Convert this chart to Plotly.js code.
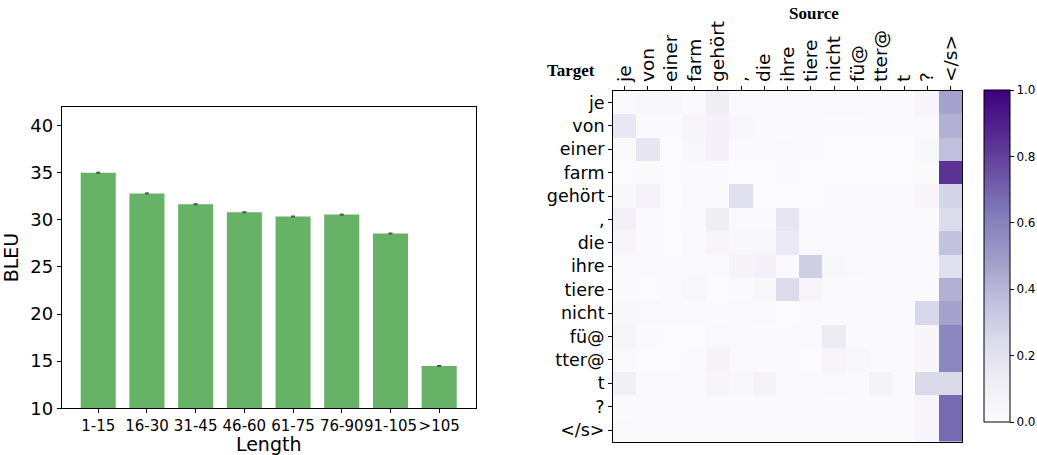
<!DOCTYPE html>
<html>
<head>
<meta charset="utf-8">
<script src="https://cdn.plot.ly/plotly-3.0.1.min.js"></script>
<style>html,body{margin:0;padding:0;background:#fff;}#chart{width:1037px;height:455px;}</style>
</head>
<body>
<div id="chart"></div>
<script>
// ---- Bar chart data ----
const lengthBins = ["1-15", "16-30", "31-45", "46-60", "61-75", "76-90", "91-105", ">105"];
const bleuScores = [35.0, 32.8, 31.65, 30.8, 30.35, 30.55, 28.55, 14.5];
const bleuErrors = [0.05, 0.05, 0.05, 0.05, 0.05, 0.05, 0.05, 0.05];

// ---- Attention heatmap data ----
const sourceTokens = ["je", "von", "einer", "farm", "gehört", ",", "die", "ihre", "tiere", "nicht", "fü@", "tter@", "t", "?", "</s>"];
const targetTokens = ["je", "von", "einer", "farm", "gehört", ",", "die", "ihre", "tiere", "nicht", "fü@", "tter@", "t", "?", "</s>"];
const attention = [
  [0.02, 0.04, 0.04, 0.02, 0.12, 0.02, 0.02, 0.02, 0.02, 0.03, 0.03, 0.02, 0.02, 0.05, 0.47],
  [0.16, 0.02, 0.02, 0.05, 0.08, 0.04, 0.02, 0.02, 0.02, 0.02, 0.02, 0.02, 0.02, 0.03, 0.42],
  [0.03, 0.17, 0.01, 0.04, 0.08, 0.02, 0.02, 0.03, 0.02, 0.01, 0.01, 0.01, 0.01, 0.04, 0.36],
  [0.01, 0.02, 0.01, 0.02, 0.02, 0.01, 0.01, 0.02, 0.01, 0.01, 0.01, 0.01, 0.01, 0.02, 0.84],
  [0.04, 0.07, 0.01, 0.03, 0.02, 0.22, 0.01, 0.01, 0.01, 0.02, 0.03, 0.03, 0.02, 0.05, 0.27],
  [0.09, 0.02, 0.01, 0.02, 0.12, 0.02, 0.02, 0.18, 0.02, 0.02, 0.02, 0.02, 0.02, 0.02, 0.24],
  [0.05, 0.02, 0.01, 0.03, 0.05, 0.04, 0.04, 0.15, 0.03, 0.03, 0.02, 0.02, 0.02, 0.03, 0.35],
  [0.02, 0.02, 0.02, 0.03, 0.02, 0.06, 0.08, 0.02, 0.3, 0.04, 0.03, 0.02, 0.02, 0.02, 0.21],
  [0.02, 0.01, 0.02, 0.04, 0.01, 0.02, 0.04, 0.24, 0.05, 0.02, 0.02, 0.02, 0.02, 0.02, 0.42],
  [0.04, 0.03, 0.02, 0.02, 0.02, 0.03, 0.03, 0.01, 0.02, 0.02, 0.02, 0.02, 0.02, 0.26, 0.47],
  [0.05, 0.02, 0.01, 0.01, 0.03, 0.03, 0.02, 0.02, 0.02, 0.14, 0.02, 0.02, 0.02, 0.05, 0.58],
  [0.03, 0.01, 0.01, 0.02, 0.06, 0.03, 0.02, 0.02, 0.01, 0.05, 0.04, 0.02, 0.02, 0.05, 0.58],
  [0.1, 0.02, 0.02, 0.02, 0.05, 0.04, 0.07, 0.02, 0.02, 0.03, 0.02, 0.07, 0.02, 0.25, 0.25],
  [0.02, 0.02, 0.02, 0.02, 0.02, 0.02, 0.02, 0.02, 0.02, 0.02, 0.02, 0.02, 0.02, 0.05, 0.68],
  [0.03, 0.02, 0.02, 0.02, 0.02, 0.02, 0.02, 0.02, 0.02, 0.02, 0.02, 0.02, 0.02, 0.05, 0.68]
];
const colorbarTicks = [0, 0.2, 0.4, 0.6, 0.8, 1.0];

const purples = [
  [0, "#fcfbfd"], [0.125, "#efedf5"], [0.25, "#dadaeb"], [0.375, "#bcbddc"],
  [0.5, "#9e9ac8"], [0.625, "#807dba"], [0.75, "#6a51a3"], [0.875, "#54278f"], [1, "#3f007d"]
];
const esc = s => s.replace(/&/g, "&amp;").replace(/</g, "&lt;").replace(/>/g, "&gt;");
const idx = sourceTokens.map((_, i) => i);
const ridx = targetTokens.map((_, i) => i);
const font = "DejaVu Sans, sans-serif";

const W = 1037, H = 455;
const px = v => v / W, py = v => 1 - v / H;

const barTrace = {
  type: "bar", x: lengthBins, y: bleuScores, width: 0.72,
  marker: {color: "#66b266", line: {width: 0}},
  error_y: {type: "data", array: bleuErrors, visible: true, color: "#444", thickness: 1, width: 2},
  xaxis: "x", yaxis: "y", hoverinfo: "x+y"
};

const heatTrace = {
  type: "heatmap", z: attention, x: idx, y: ridx,
  colorscale: purples, zmin: 0, zmax: 1,
  xaxis: "x2", yaxis: "y2", xgap: 0, ygap: 0,
  colorbar: {
    x: px(989), xanchor: "left", y: py(422), yanchor: "bottom",
    lenmode: "pixels", len: 332, thicknessmode: "pixels", thickness: 26,
    outlinewidth: 1, outlinecolor: "#000",
    tickvals: colorbarTicks, ticktext: colorbarTicks.map(v => v.toFixed(1)),
    ticks: "outside", ticklen: 4, tickcolor: "#000", tickwidth: 1,
    tickfont: {family: font, size: 12, color: "#000"}, xpad: 0, ypad: 0
  }
};

const layout = {
  width: W, height: H, margin: {l: 0, r: 0, t: 0, b: 0},
  paper_bgcolor: "#fff", plot_bgcolor: "#fff", showlegend: false,
  xaxis: {
    domain: [px(62), px(478)], range: [-0.75, 7.75], type: "category",
    tickangle: 0,
    showline: true, mirror: true, linecolor: "#000", linewidth: 1,
    ticks: "outside", ticklen: 4, tickcolor: "#000",
    tickfont: {family: font, size: 15, color: "#000"},
    title: {text: "Length", font: {family: font, size: 19, color: "#000"}, standoff: 3},
    showgrid: false, zeroline: false
  },
  yaxis: {
    domain: [py(408.3), py(106.7)], range: [10, 42],
    tickvals: [10, 15, 20, 25, 30, 35, 40],
    showline: true, mirror: true, linecolor: "#000", linewidth: 1,
    ticks: "outside", ticklen: 4, tickcolor: "#000",
    tickfont: {family: font, size: 18, color: "#000"},
    title: {text: "BLEU", font: {family: font, size: 19, color: "#000"}, standoff: 6},
    showgrid: false, zeroline: false
  },
  xaxis2: {
    domain: [px(616), px(967)], range: [-0.5, 14.5], anchor: "y2", side: "top",
    tickvals: idx, ticktext: sourceTokens.map(esc), tickangle: -90,
    showline: true, mirror: true, linecolor: "#000", linewidth: 1,
    ticks: "outside", ticklen: 4, tickcolor: "#000",
    tickfont: {family: font, size: 18.5, color: "#000"},
    showgrid: false, zeroline: false
  },
  yaxis2: {
    domain: [py(441.7), py(90.7)], range: [14.5, -0.5], anchor: "x2",
    tickvals: ridx, ticktext: targetTokens.map(esc),
    showline: true, mirror: true, linecolor: "#000", linewidth: 1,
    ticks: "outside", ticklen: 4, tickcolor: "#000",
    tickfont: {family: font, size: 17.5, color: "#000"},
    showgrid: false, zeroline: false
  },
  annotations: [
    {text: "<b>Source</b>", xref: "paper", yref: "paper", x: px(818), y: py(13), xanchor: "center", yanchor: "middle",
     showarrow: false, font: {family: "Liberation Serif, serif", size: 17, color: "#000"}},
    {text: "<b>Target</b>", xref: "paper", yref: "paper", x: px(574), y: py(70), xanchor: "center", yanchor: "middle",
     showarrow: false, font: {family: "Liberation Serif, serif", size: 17, color: "#000"}}
  ]
};

Plotly.newPlot("chart", [barTrace, heatTrace], layout, {displayModeBar: false, staticPlot: true});
</script>
</body>
</html>
